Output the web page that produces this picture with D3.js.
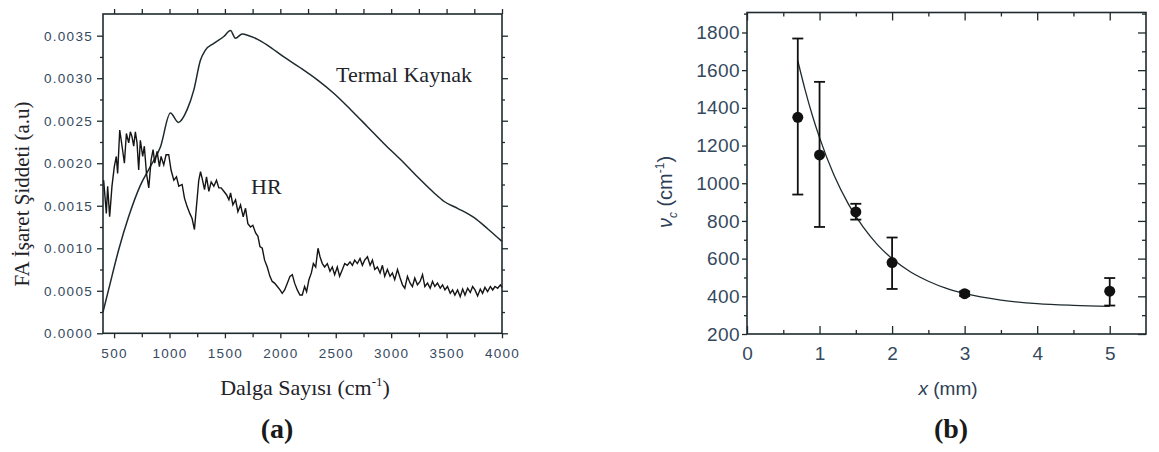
<!DOCTYPE html>
<html>
<head>
<meta charset="utf-8">
<script src="https://cdn.jsdelivr.net/npm/d3@7/dist/d3.min.js"></script>
<style>
  html, body { margin: 0; padding: 0; background: #fff; }
  svg { display: block; }
</style>
</head>
<body>
<svg id="chart" width="1159" height="452"></svg>
<script>
// ---------- Panel (a) data ----------
const thermalWavenumber = [400, 450, 541, 631, 737, 827, 918, 1008, 1080, 1159, 1219, 1279, 1324, 1400, 1490, 1550, 1595, 1656, 1716, 1791, 1882, 2032, 2183, 2334, 2484, 2635, 2786, 2936, 3087, 3237, 3388, 3478, 3599, 3749, 3870, 4000];
const thermalSignal = [0.00025, 0.00051, 0.00098, 0.00137, 0.00174, 0.00196, 0.00219, 0.00259, 0.00248, 0.00263, 0.00286, 0.00321, 0.00333, 0.00341, 0.00349, 0.00356, 0.00347, 0.00352, 0.00350, 0.00346, 0.00339, 0.00325, 0.00312, 0.00298, 0.00282, 0.00263, 0.00243, 0.00223, 0.00204, 0.00184, 0.00165, 0.00155, 0.00147, 0.00136, 0.00123, 0.00108];

const hrWavenumber = [406, 430, 442, 460, 481, 502, 520, 532, 551, 572, 593, 611, 632, 647, 662, 677, 692, 707, 722, 737, 758, 773, 792, 813, 834, 852, 867, 888, 909, 924, 948, 969, 993, 1014, 1039, 1063, 1084, 1114, 1135, 1159, 1183, 1204, 1225, 1243, 1264, 1280, 1295, 1316, 1334, 1355, 1376, 1400, 1424, 1445, 1466, 1490, 1514, 1536, 1551, 1572, 1596, 1617, 1641, 1665, 1686, 1707, 1731, 1752, 1777, 1798, 1816, 1837, 1858, 1882, 1906, 1927, 1948, 1973, 1997, 2017, 2039, 2063, 2087, 2108, 2129, 2153, 2177, 2198, 2219, 2237, 2258, 2280, 2298, 2319, 2340, 2358, 2379, 2400, 2424, 2448, 2469, 2490, 2514, 2535, 2560, 2581, 2605, 2629, 2650, 2671, 2695, 2719, 2740, 2761, 2786, 2810, 2831, 2852, 2876, 2900, 2921, 2942, 2966, 2990, 3011, 3032, 3057, 3081, 3102, 3123, 3147, 3171, 3192, 3213, 3237, 3261, 3283, 3304, 3328, 3352, 3373, 3394, 3418, 3443, 3464, 3485, 3508, 3533, 3554, 3575, 3599, 3623, 3645, 3666, 3690, 3714, 3735, 3756, 3780, 3804, 3825, 3846, 3870, 3895, 3916, 3937, 3961, 3985, 4000];
const hrSignal = [0.00180, 0.00141, 0.00173, 0.00137, 0.00173, 0.00196, 0.00208, 0.00188, 0.00239, 0.00220, 0.00200, 0.00235, 0.00224, 0.00237, 0.00231, 0.00220, 0.00237, 0.00224, 0.00192, 0.00227, 0.00208, 0.00220, 0.00188, 0.00171, 0.00204, 0.00216, 0.00200, 0.00214, 0.00196, 0.00208, 0.00198, 0.00210, 0.00210, 0.00192, 0.00180, 0.00184, 0.00173, 0.00175, 0.00159, 0.00149, 0.00141, 0.00135, 0.00122, 0.00149, 0.00180, 0.00190, 0.00182, 0.00169, 0.00184, 0.00167, 0.00178, 0.00173, 0.00180, 0.00171, 0.00171, 0.00167, 0.00163, 0.00157, 0.00165, 0.00151, 0.00157, 0.00143, 0.00151, 0.00137, 0.00147, 0.00129, 0.00125, 0.00127, 0.00118, 0.00114, 0.00102, 0.00100, 0.00086, 0.00078, 0.00067, 0.00061, 0.00059, 0.00055, 0.00051, 0.00047, 0.00051, 0.00059, 0.00067, 0.00069, 0.00059, 0.00051, 0.00045, 0.00045, 0.00055, 0.00049, 0.00063, 0.00071, 0.00082, 0.00078, 0.00100, 0.00090, 0.00082, 0.00078, 0.00082, 0.00073, 0.00078, 0.00069, 0.00078, 0.00067, 0.00075, 0.00082, 0.00080, 0.00084, 0.00080, 0.00086, 0.00082, 0.00088, 0.00080, 0.00086, 0.00090, 0.00080, 0.00086, 0.00075, 0.00078, 0.00071, 0.00080, 0.00067, 0.00075, 0.00067, 0.00071, 0.00063, 0.00075, 0.00065, 0.00057, 0.00053, 0.00067, 0.00059, 0.00055, 0.00065, 0.00057, 0.00061, 0.00069, 0.00055, 0.00059, 0.00053, 0.00061, 0.00055, 0.00059, 0.00053, 0.00057, 0.00051, 0.00055, 0.00047, 0.00051, 0.00045, 0.00051, 0.00043, 0.00052, 0.00045, 0.00053, 0.00048, 0.00055, 0.00051, 0.00044, 0.00052, 0.00047, 0.00054, 0.00049, 0.00055, 0.00051, 0.00055, 0.00053, 0.00057, 0.00054];

const aXTicks = [500, 1000, 1500, 2000, 2500, 3000, 3500, 4000];
const aXMinor = [750, 1250, 1750, 2250, 2750, 3250, 3750];
const aYTicks = [0, 0.0005, 0.0010, 0.0015, 0.0020, 0.0025, 0.0030, 0.0035];
const aYMinor = [0.00025, 0.00075, 0.00125, 0.00175, 0.00225, 0.00275, 0.00325];

// ---------- Panel (b) data ----------
const bX = [0.7, 1.0, 1.5, 2.0, 3.0, 5.0];
const bY = [1350, 1150, 848, 579, 414, 427];
const bErrLow = [940, 768, 807, 439, 402, 351];
const bErrHigh = [1768, 1538, 891, 712, 426, 497];
const fitX = [0.7, 0.8, 0.9, 1.0, 1.2, 1.4, 1.6, 1.8, 2.0, 2.25, 2.5, 2.75, 3.0, 3.5, 4.0, 4.5, 5.0];
const fitY = [1650, 1497, 1361, 1242, 1042, 888, 768, 673, 600, 530, 480, 442, 415, 380, 361, 352, 347];

const bXTicks = [0, 1, 2, 3, 4, 5];
const bXMinor = [0.5, 1.5, 2.5, 3.5, 4.5];
const bYTicks = [200, 400, 600, 800, 1000, 1200, 1400, 1600, 1800];
const bYMinor = [300, 500, 700, 900, 1100, 1300, 1500, 1700, 1900];

// ---------- drawing ----------
const svg = d3.select("#chart");
const ink = "#1e2a2e";
const tickInk = "#34495e";
const textInk = "#222228";

function styleAxis(g, fontFamily, fontSize, spacing) {
  g.select(".domain").remove();
  g.selectAll(".tick line").attr("stroke", ink).attr("stroke-width", 1.3);
  g.selectAll(".tick text")
    .attr("fill", tickInk)
    .style("font-family", fontFamily)
    .style("font-size", fontSize + "px")
    .style("letter-spacing", spacing + "px");
}

// ===== Panel (a) =====
const xA = d3.scaleLinear().domain([400, 4000]).range([103, 502]);
const yA = d3.scaleLinear().domain([0, 0.003755]).range([333.3, 14]);
const aFont = "'Liberation Sans', Arial, sans-serif";

const ga = svg.append("g");

// bottom
ga.append("g").attr("transform", `translate(0,${yA(0)})`)
  .call(d3.axisBottom(xA).tickValues(aXTicks).tickSize(5).tickFormat(d3.format("d")))
  .call(g => styleAxis(g, aFont, 13.5, 1.3))
  .call(g => g.selectAll(".tick text").attr("y", 25).attr("dy", 0));
ga.append("g").attr("transform", `translate(0,${yA(0)})`)
  .call(d3.axisBottom(xA).tickValues(aXMinor).tickSize(4).tickFormat(""))
  .call(g => styleAxis(g, aFont, 13, 0));
// top
ga.append("g").attr("transform", `translate(0,${yA.range()[1]})`)
  .call(d3.axisTop(xA).tickValues(aXTicks.concat(aXMinor)).tickSize(5).tickFormat(""))
  .call(g => styleAxis(g, aFont, 13, 0));
// left
ga.append("g").attr("transform", `translate(${xA(400)},0)`)
  .call(d3.axisLeft(yA).tickValues(aYTicks).tickSize(6).tickPadding(4).tickFormat(d3.format(".4f")))
  .call(g => styleAxis(g, aFont, 13.5, 1.3));
ga.append("g").attr("transform", `translate(${xA(400)},0)`)
  .call(d3.axisLeft(yA).tickValues(aYMinor).tickSize(3).tickFormat(""))
  .call(g => styleAxis(g, aFont, 13, 0));
// right
ga.append("g").attr("transform", `translate(${xA(4000)},0)`)
  .call(d3.axisRight(yA).tickValues(aYTicks).tickSize(6).tickFormat(""))
  .call(g => styleAxis(g, aFont, 13, 0));
ga.append("g").attr("transform", `translate(${xA(4000)},0)`)
  .call(d3.axisRight(yA).tickValues(aYMinor).tickSize(3).tickFormat(""))
  .call(g => styleAxis(g, aFont, 13, 0));

// frame
ga.append("rect")
  .attr("x", xA(400)).attr("y", yA.range()[1])
  .attr("width", xA(4000) - xA(400)).attr("height", yA(0) - yA.range()[1])
  .attr("fill", "none").attr("stroke", ink).attr("stroke-width", 1.6);

// lines
ga.append("path")
  .datum(thermalWavenumber.map((v, i) => [v, thermalSignal[i]]))
  .attr("d", d3.line().x(d => xA(d[0])).y(d => yA(d[1])).curve(d3.curveMonotoneX))
  .attr("fill", "none").attr("stroke", ink).attr("stroke-width", 1.5);
ga.append("path")
  .datum(hrWavenumber.map((v, i) => [v, hrSignal[i]]))
  .attr("d", d3.line().x(d => xA(d[0])).y(d => yA(d[1])))
  .attr("fill", "none").attr("stroke", "#151515").attr("stroke-width", 1.4);

const serif = "'Liberation Serif', 'Times New Roman', serif";
ga.append("text").attr("x", 336).attr("y", 82)
  .style("font-family", serif).style("font-size", "22px").attr("fill", textInk)
  .text("Termal Kaynak");
ga.append("text").attr("x", 251).attr("y", 194)
  .style("font-family", serif).style("font-size", "22px").attr("fill", textInk)
  .text("HR");

const xlabA = ga.append("text").attr("x", 305).attr("y", 395).attr("text-anchor", "middle")
  .style("font-family", serif).style("font-size", "22px").attr("fill", textInk);
xlabA.append("tspan").text("Dalga Sayısı (cm");
xlabA.append("tspan").attr("dy", -9).style("font-size", "13px").text("-1");
xlabA.append("tspan").attr("dy", 9).text(")");

ga.append("text").attr("transform", "translate(29,194) rotate(-90)").attr("text-anchor", "middle")
  .style("font-family", serif).style("font-size", "21px").attr("fill", textInk)
  .text("FA İşaret Şiddeti (a.u)");

ga.append("text").attr("x", 277).attr("y", 438).attr("text-anchor", "middle")
  .style("font-family", serif).style("font-size", "28px").style("font-weight", "bold").attr("fill", "#1a1a1a")
  .text("(a)");

// ===== Panel (b) =====
const xB = d3.scaleLinear().domain([0, 5.5]).range([747, 1146]);
const yB = d3.scaleLinear().domain([200, 1906]).range([334, 12.5]);
const bFont = "'Liberation Sans', Arial, sans-serif";
const gb = svg.append("g");

// bottom (inward)
gb.append("g").attr("transform", `translate(0,${yB(200)})`)
  .call(d3.axisBottom(xB).tickValues(bXTicks).tickSize(-8).tickFormat(d3.format("d")))
  .call(g => styleAxis(g, bFont, 19, 0))
  .call(g => g.selectAll(".tick text").attr("y", 26).attr("dy", 0));
gb.append("g").attr("transform", `translate(0,${yB(200)})`)
  .call(d3.axisBottom(xB).tickValues(bXMinor).tickSize(-4).tickFormat(""))
  .call(g => styleAxis(g, bFont, 19, 0));
// top (inward)
gb.append("g").attr("transform", `translate(0,${yB.range()[1]})`)
  .call(d3.axisTop(xB).tickValues(bXTicks).tickSize(-8).tickFormat(""))
  .call(g => styleAxis(g, bFont, 19, 0));
gb.append("g").attr("transform", `translate(0,${yB.range()[1]})`)
  .call(d3.axisTop(xB).tickValues(bXMinor).tickSize(-4).tickFormat(""))
  .call(g => styleAxis(g, bFont, 19, 0));
// left (outward)
gb.append("g").attr("transform", `translate(${xB(0)},0)`)
  .call(d3.axisLeft(yB).tickValues(bYTicks).tickSize(5).tickPadding(2).tickFormat(d3.format("d")))
  .call(g => styleAxis(g, bFont, 19, 0.4));
gb.append("g").attr("transform", `translate(${xB(0)},0)`)
  .call(d3.axisLeft(yB).tickValues(bYMinor).tickSize(3).tickFormat(""))
  .call(g => styleAxis(g, bFont, 19, 0));
// right (inward)
gb.append("g").attr("transform", `translate(${xB(5.5)},0)`)
  .call(d3.axisRight(yB).tickValues(bYTicks).tickSize(-8).tickFormat(""))
  .call(g => styleAxis(g, bFont, 19, 0));
gb.append("g").attr("transform", `translate(${xB(5.5)},0)`)
  .call(d3.axisRight(yB).tickValues(bYMinor).tickSize(-4).tickFormat(""))
  .call(g => styleAxis(g, bFont, 19, 0));

gb.append("rect")
  .attr("x", xB(0)).attr("y", yB.range()[1])
  .attr("width", xB(5.5) - xB(0)).attr("height", yB(200) - yB.range()[1])
  .attr("fill", "none").attr("stroke", ink).attr("stroke-width", 1.6);

// fit curve
gb.append("path")
  .datum(fitX.map((v, i) => [v, fitY[i]]))
  .attr("d", d3.line().x(d => xB(d[0])).y(d => yB(d[1])).curve(d3.curveMonotoneX))
  .attr("fill", "none").attr("stroke", ink).attr("stroke-width", 1.3);

// error bars
const pts = bX.map((x, i) => ({ x, y: bY[i], lo: bErrLow[i], hi: bErrHigh[i] }));
const eb = gb.append("g").attr("stroke", "#111").attr("stroke-width", 1.8);
eb.selectAll("line.v").data(pts).join("line").attr("class", "v")
  .attr("x1", d => xB(d.x)).attr("x2", d => xB(d.x))
  .attr("y1", d => yB(d.lo)).attr("y2", d => yB(d.hi));
eb.selectAll("line.t").data(pts).join("line").attr("class", "t")
  .attr("x1", d => xB(d.x) - 5.5).attr("x2", d => xB(d.x) + 5.5)
  .attr("y1", d => yB(d.hi)).attr("y2", d => yB(d.hi));
eb.selectAll("line.b").data(pts).join("line").attr("class", "b")
  .attr("x1", d => xB(d.x) - 5.5).attr("x2", d => xB(d.x) + 5.5)
  .attr("y1", d => yB(d.lo)).attr("y2", d => yB(d.lo));
gb.selectAll("circle").data(pts).join("circle")
  .attr("cx", d => xB(d.x)).attr("cy", d => yB(d.y)).attr("r", 5.5)
  .attr("fill", "#111");

// labels
const xlabB = gb.append("text").attr("x", 948).attr("y", 395).attr("text-anchor", "middle")
  .style("font-family", bFont).style("font-size", "19px").attr("fill", "#2c3e55");
xlabB.append("tspan").style("font-style", "italic").text("x");
xlabB.append("tspan").text(" (mm)");

const ylabB = gb.append("text").attr("transform", "translate(672,192) rotate(-90)").attr("text-anchor", "middle")
  .style("font-family", bFont).style("font-size", "20px").attr("fill", "#2c3e55");
ylabB.append("tspan").style("font-style", "italic").text("ν");
ylabB.append("tspan").attr("dy", 5).style("font-size", "12px").style("font-style", "italic").text("c");
ylabB.append("tspan").attr("dy", -5).text(" (cm");
ylabB.append("tspan").attr("dy", -8).style("font-size", "12px").text("-1");
ylabB.append("tspan").attr("dy", 8).text(")");

gb.append("text").attr("x", 951).attr("y", 438).attr("text-anchor", "middle")
  .style("font-family", serif).style("font-size", "28px").style("font-weight", "bold").attr("fill", "#1a1a1a")
  .text("(b)");
</script>
</body>
</html>
